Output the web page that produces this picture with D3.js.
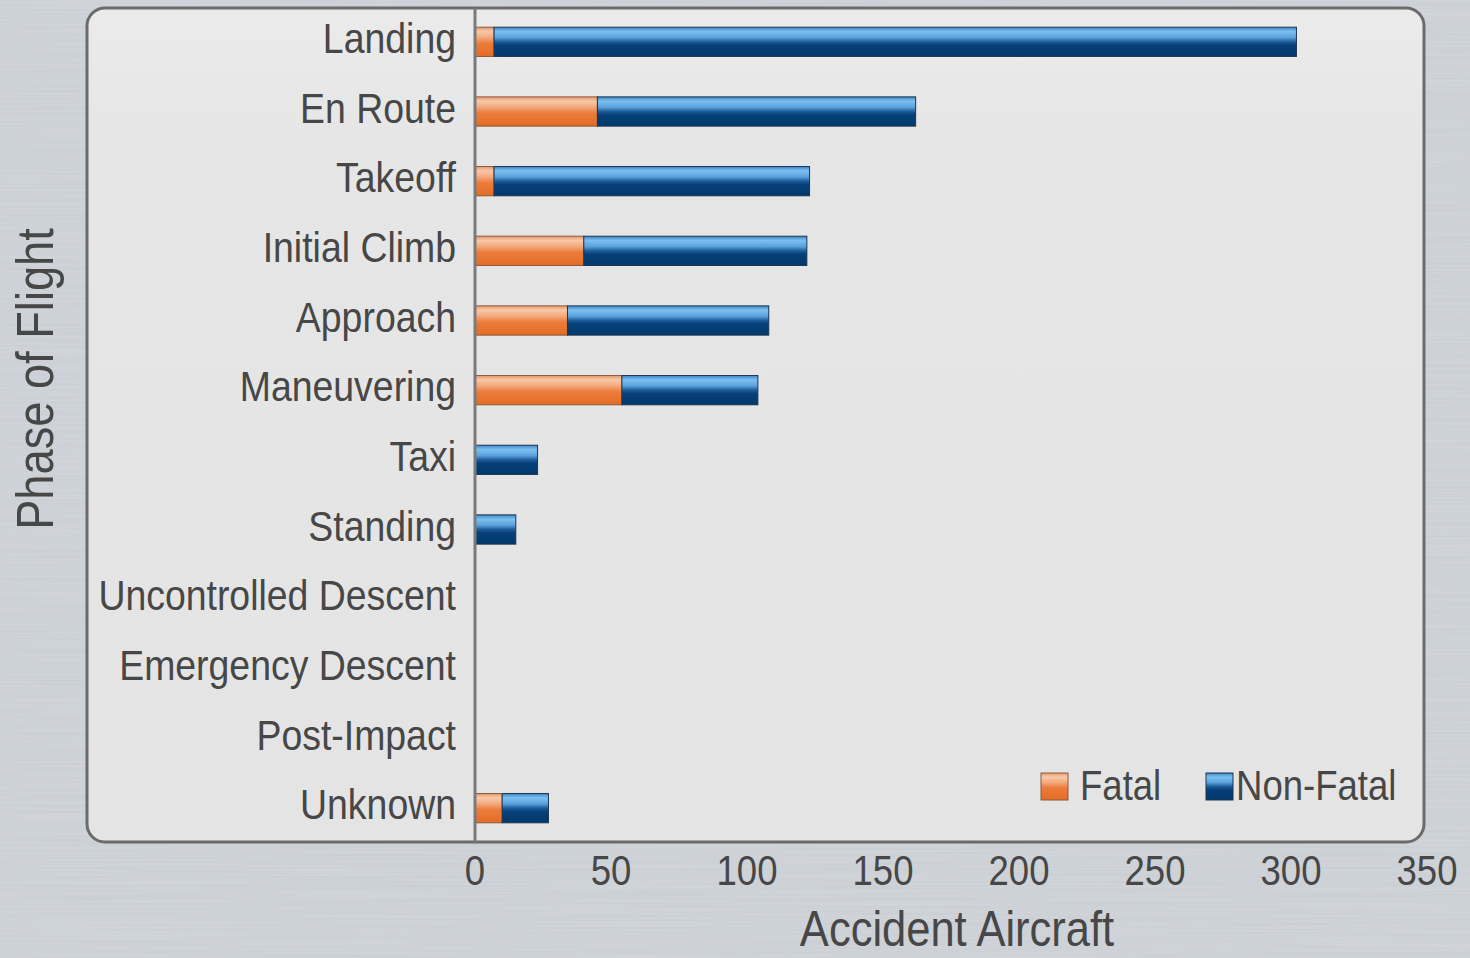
<!DOCTYPE html>
<html>
<head>
<meta charset="utf-8">
<script src="https://cdn.jsdelivr.net/npm/d3@7"></script>
<style>
  html, body { margin: 0; padding: 0; background: #c7ccd2; }
  svg { display: block; }
  text { font-family: "Liberation Sans", Arial, sans-serif; fill: #474747; }
</style>
</head>
<body>
<svg id="chart" width="1470" height="958"></svg>
<script>
const categories = ["Landing", "En Route", "Takeoff", "Initial Climb", "Approach", "Maneuvering",
  "Taxi", "Standing", "Uncontrolled Descent", "Emergency Descent", "Post-Impact", "Unknown"];
const fatal    = [7, 45, 7, 40, 34, 54, 0, 0, 0, 0, 0, 10];
const nonFatal = [295, 117, 116, 82, 74, 50, 23, 15, 0, 0, 0, 17];
const seriesNames = ["Fatal", "Non-Fatal"];
const xTicks = [0, 50, 100, 150, 200, 250, 300, 350];
const xTitle = "Accident Aircraft";
const yTitle = "Phase of Flight";

const W = 1470, H = 958;
const frame = { left: 87, top: 8, right: 1424, bottom: 842 };
const plot = { left: 475, right: 1427, top: 7, bottom: 843 };
const NARROW = 0.87;

const svg = d3.select("#chart");
const defs = svg.append("defs");

// brushed texture for the page background
const f = defs.append("filter").attr("id", "brushed").attr("x", 0).attr("y", 0).attr("width", 1).attr("height", 1);
f.append("feTurbulence").attr("type", "fractalNoise").attr("baseFrequency", "0.004 0.55").attr("numOctaves", 2).attr("seed", 3).attr("result", "n");
f.append("feColorMatrix").attr("in", "n").attr("type", "matrix")
  .attr("values", "0 0 0 0 0.76  0 0 0 0 0.78  0 0 0 0 0.81  0 0 0 0.45 0");

svg.append("rect").attr("width", W).attr("height", H).attr("fill", "#c8cdd3");
svg.append("rect").attr("width", W).attr("height", H).attr("filter", "url(#brushed)");

// gradients
function grad(id, stops) {
  const g = defs.append("linearGradient").attr("id", id).attr("x1", 0).attr("y1", 0).attr("x2", 0).attr("y2", 1);
  stops.forEach(s => g.append("stop").attr("offset", s[0]).attr("stop-color", s[1]));
}
grad("gBlue", [[0, "#3f86c8"], [0.15, "#7cc0f0"], [0.35, "#5aa2dc"], [0.5, "#1d5c99"], [0.62, "#073f78"], [1, "#003a6c"]]);
grad("gOrange", [[0, "#e59a6f"], [0.15, "#f9c8a8"], [0.35, "#f2a97c"], [0.55, "#ec7c3c"], [1, "#e36c24"]]);
grad("gPanel", [[0, "#ebebeb"], [0.15, "#e6e6e6"], [1, "#e4e4e4"]]);

// plot frame
svg.append("rect")
  .attr("x", frame.left).attr("y", frame.top)
  .attr("width", frame.right - frame.left).attr("height", frame.bottom - frame.top)
  .attr("rx", 18).attr("ry", 18)
  .attr("fill", "url(#gPanel)").attr("stroke", "#6b6b6b").attr("stroke-width", 3);

const x = d3.scaleLinear().domain([0, 350]).range([plot.left, plot.right]);
const y = d3.scaleBand().domain(categories).range([plot.top, plot.bottom]).padding(0);
const barH = y.bandwidth() * 0.42;

const rows = categories.map((c, i) => ({ cat: c, fatal: fatal[i], nonFatal: nonFatal[i] }));
const stack = d3.stack().keys(["fatal", "nonFatal"])(rows);
const fills = { fatal: "url(#gOrange)", nonFatal: "url(#gBlue)" };
const strokes = { fatal: "#8a5a3c", nonFatal: "#1c3550" };

const gBars = svg.append("g");
stack.forEach(layer => {
  gBars.append("g").selectAll("rect")
    .data(layer.filter(d => d[1] - d[0] > 0))
    .join("rect")
    .attr("x", d => x(d[0]))
    .attr("y", d => y(d.data.cat) + (y.bandwidth() - barH) / 2)
    .attr("width", d => x(d[1]) - x(d[0]))
    .attr("height", barH)
    .attr("fill", fills[layer.key])
    .attr("stroke", strokes[layer.key])
    .attr("stroke-width", 1);
});

// y axis line
svg.append("line")
  .attr("x1", x(0)).attr("x2", x(0))
  .attr("y1", frame.top).attr("y2", frame.bottom)
  .attr("stroke", "#7a7a7a").attr("stroke-width", 3);

const narrow = (px, py, rot) => `translate(${px},${py})` + (rot ? ` rotate(${rot})` : "") + ` scale(${NARROW},1)`;

// category labels
svg.append("g").selectAll("text")
  .data(categories)
  .join("text")
  .attr("transform", d => narrow(x(0) - 19, y(d) + y.bandwidth() / 2 + 11))
  .attr("text-anchor", "end")
  .attr("font-size", 43)
  .text(d => d);

// x tick labels
svg.append("g").selectAll("text")
  .data(xTicks)
  .join("text")
  .attr("transform", d => narrow(x(d), 885))
  .attr("text-anchor", "middle")
  .attr("font-size", 42)
  .text(d => d);

// axis titles
svg.append("text")
  .attr("transform", narrow(957, 946))
  .attr("text-anchor", "middle")
  .attr("font-size", 50)
  .text(xTitle);

svg.append("text")
  .attr("transform", narrow(53, 379, -90))
  .attr("text-anchor", "middle")
  .attr("font-size", 52)
  .text(yTitle);

// legend
const legendX = [1041, 1206];
const lg = svg.append("g");
seriesNames.forEach((name, i) => {
  lg.append("rect")
    .attr("x", legendX[i]).attr("y", 773)
    .attr("width", 27).attr("height", 27)
    .attr("fill", i === 0 ? "url(#gOrange)" : "url(#gBlue)")
    .attr("stroke", i === 0 ? "#8a5a3c" : "#1c3550").attr("stroke-width", 1);
  lg.append("text")
    .attr("transform", narrow(legendX[i] + (i === 0 ? 39 : 30), 800))
    .attr("font-size", 42)
    .text(name);
});
</script>
</body>
</html>
